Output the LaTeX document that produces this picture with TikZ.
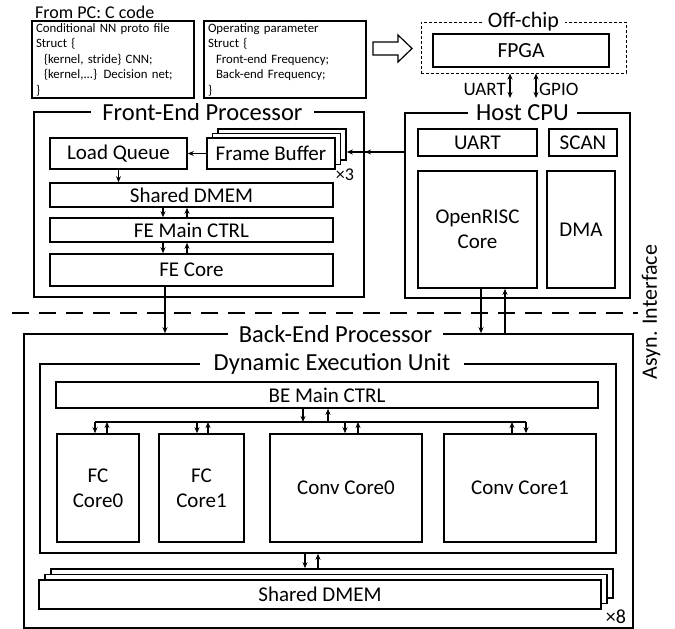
\documentclass[tikz,border=0pt]{standalone}
\usepackage{fontspec}
\setmainfont{Carlito}
\usetikzlibrary{arrows.meta}
\newcommand\mybox[7][]{\node[box,minimum width={#5-#3},minimum height={#6-#4},#1] (#2) at ({(#3+#5)/2},{(#4+#6)/2}) {#7};}
\tikzset{
  box/.style={draw, line width=1.6pt, inner sep=0pt, fill=white, align=center, font=\fontsize{21}{25}\selectfont},
  ttl/.style={fill=white, inner xsep=#1, inner ysep=1pt, font=\fontsize{24.5}{28}\selectfont},
  ttl/.default=10pt,
  arr/.style={line width=1.2pt, -{Stealth[length=6pt,width=5pt]}},
  darr/.style={line width=1.2pt, {Stealth[length=6pt,width=5pt]}-{Stealth[length=6pt,width=5pt]}},
  codebox/.style={align=left, line width=1.4pt, inner xsep=4pt, text width=154pt, font=\fontsize{12.8}{15.5}\selectfont},
  lbl/.style={inner sep=0pt},
}
\begin{document}
\begin{tikzpicture}[x=1pt,y=-1pt]
\useasboundingbox (0,0) rectangle (675,629);
% header
\node[lbl, font=\fontsize{18}{20}\selectfont, anchor=west] (frompc) at (35,12) {From PC: C code};
\mybox[codebox]{code1}{32}{21}{194}{98}{Conditional NN proto file\\Struct \{\\\hspace*{8pt}\{kernel, stride\} CNN;\\\hspace*{8pt}\{kernel,...\} Decision net;\\\}}
\mybox[codebox]{code2}{204}{21}{366}{98}{Operating parameter\\Struct \{\\\hspace*{8pt}Front-end Frequency;\\\hspace*{8pt}Back-end Frequency;\\\}}
\draw[line width=1.2pt] (373,42) -- (398,42) -- (398,35) -- (412,48.5) -- (398,62) -- (398,55) -- (373,55) -- cycle;
% off-chip
\mybox[dashed, line width=1pt, dash pattern=on 3pt off 2pt, fill=none]{off}{421}{22}{626}{73}{}
\mybox[line width=1.6pt, font=\fontsize{21.5}{25}\selectfont]{fpga}{433}{34}{609}{67}{FPGA}
\node[ttl=6pt, font=\fontsize{22}{25}\selectfont] (offt) at (523.5,22) {Off-chip};
\coordinate (ua) at (510,98);
\coordinate (gp) at (536,98);
\draw[darr] (off.south -| ua) -- (ua);
\draw[darr] (off.south -| gp) -- (gp);
\node[lbl, font=\fontsize{19}{22}\selectfont, anchor=east] (uartl) at (506,89) {UART};
\node[lbl, font=\fontsize{19}{22}\selectfont, anchor=west] (gpiol) at (539,89) {GPIO};
% front-end
\mybox{fe}{34}{112}{364}{297}{}
\mybox{lq}{50}{138}{187}{169}{Load Queue}
\mybox{fb3}{218}{129}{346}{160}{}
\mybox{fb2}{212.5}{133.5}{340.5}{164.5}{}
\mybox{fb}{207}{138}{335}{169}{Frame Buffer}
\node[lbl, font=\fontsize{18}{20}\selectfont] (x3) at (345,175) {×3};
\mybox{fdm}{50}{183}{333}{207}{Shared DMEM}
\mybox{fmain}{50}{218}{333}{242}{FE Main CTRL}
\mybox{fcore}{50}{254}{333}{286}{FE Core}
\node[ttl=11pt] (fet) at (202.5,112) {Front-End Processor};
% host
\mybox{host}{405}{113}{630}{298}{}
\mybox{huart}{418}{129}{537}{156}{UART}
\mybox{scan}{549}{129}{617}{156}{SCAN}
\mybox{risc}{418}{171}{537}{288}{OpenRISC\\Core}
\mybox{dma}{547}{171}{615}{288}{DMA}
\node[ttl=8pt] (hostt) at (522.5,113) {Host CPU};
% back-end
\mybox{be}{24}{334}{633}{628}{}
\mybox{deu}{40}{364}{616}{553}{}
\mybox{bemain}{56}{382}{598}{408}{BE Main CTRL}
\mybox{fc0}{57}{434}{139}{542}{FC\\Core0}
\mybox{fc1}{159}{434}{244}{542}{FC\\Core1}
\mybox{cv0}{270}{434}{422}{542}{Conv Core0}
\mybox{cv1}{444}{434}{596}{542}{Conv Core1}
\mybox{bdm3}{51}{569}{613}{598}{}
\mybox{bdm2}{45}{574.5}{607}{603.5}{}
\mybox{bdm}{39}{580}{601}{609}{Shared DMEM}
\node[lbl, font=\fontsize{20}{22}\selectfont] (x8) at (616,617) {×8};
\node[ttl=10.5pt] (bet) at (335.5,334) {Back-End Processor};
\node[ttl=13.5pt] (deut) at (332,364) {Dynamic Execution Unit};
% async interface
\coordinate (dl) at (12,313);
\coordinate (dr) at (638,313);
\draw[line width=1.6pt, dash pattern=on 17pt off 10pt] (dl) -- (dr);
\node[lbl, rotate=90, font=\fontsize{22}{25}\selectfont] (asyn) at (651,312) {Asyn. Interface};
% FE arrows
\coordinate (hy) at (0,152);
\coordinate (hm) at (365,152);
\draw[arr] (host.west |- hy) -- (fb3.east |- hy);
\draw[arr] (host.west |- hy) -- (hm);
\draw[arr] (fb.west) -- (lq.east);
\draw[arr] (lq.south) -- (lq.south |- fdm.north);
\coordinate (xa) at (163,0);
\coordinate (xb) at (187,0);
\draw[arr] (fdm.south -| xa) -- (fmain.north -| xa);
\draw[arr] (fmain.north -| xb) -- (fdm.south -| xb);
\draw[arr] (fmain.south -| xa) -- (fcore.north -| xa);
\draw[arr] (fcore.north -| xb) -- (fmain.south -| xb);
\coordinate (xfe) at (165,0);
\draw[arr] (fcore.south -| xfe) -- (be.north -| xfe);
% host arrows
\coordinate (xh1) at (481,0);
\coordinate (xh2) at (505,0);
\draw[arr] (risc.south -| xh1) -- (be.north -| xh1);
\draw[arr] (be.north -| xh2) -- (risc.south -| xh2);
% BE bus
\coordinate (bl) at (95,422);
\coordinate (br) at (526,422);
\draw[line width=1.2pt] (bl) -- (br);
\coordinate (m1) at (303,0);
\coordinate (m2) at (328,0);
\draw[arr] (bemain.south -| m1) -- (bl -| m1);
\draw[arr] (bl -| m2) -- (bemain.south -| m2);
\coordinate (c1) at (107,0);
\coordinate (c2) at (197,0);
\coordinate (c3) at (208,0);
\coordinate (c4) at (345,0);
\coordinate (c5) at (358,0);
\coordinate (c6) at (512,0);
\draw[arr] (bl) -- (fc0.north -| bl);
\draw[arr] (fc0.north -| c1) -- (bl -| c1);
\draw[arr] (bl -| c2) -- (fc1.north -| c2);
\draw[arr] (fc1.north -| c3) -- (bl -| c3);
\draw[arr] (bl -| c4) -- (cv0.north -| c4);
\draw[arr] (cv0.north -| c5) -- (bl -| c5);
\draw[arr] (cv1.north -| c6) -- (bl -| c6);
\draw[arr] (br) -- (cv1.north -| br);
% DEU to shared DMEM
\coordinate (d1) at (305,0);
\coordinate (d2) at (318,0);
\draw[arr] (deu.south -| d1) -- (bdm3.north -| d1);
\draw[arr] (bdm3.north -| d2) -- (deu.south -| d2);
\end{tikzpicture}
\end{document}
